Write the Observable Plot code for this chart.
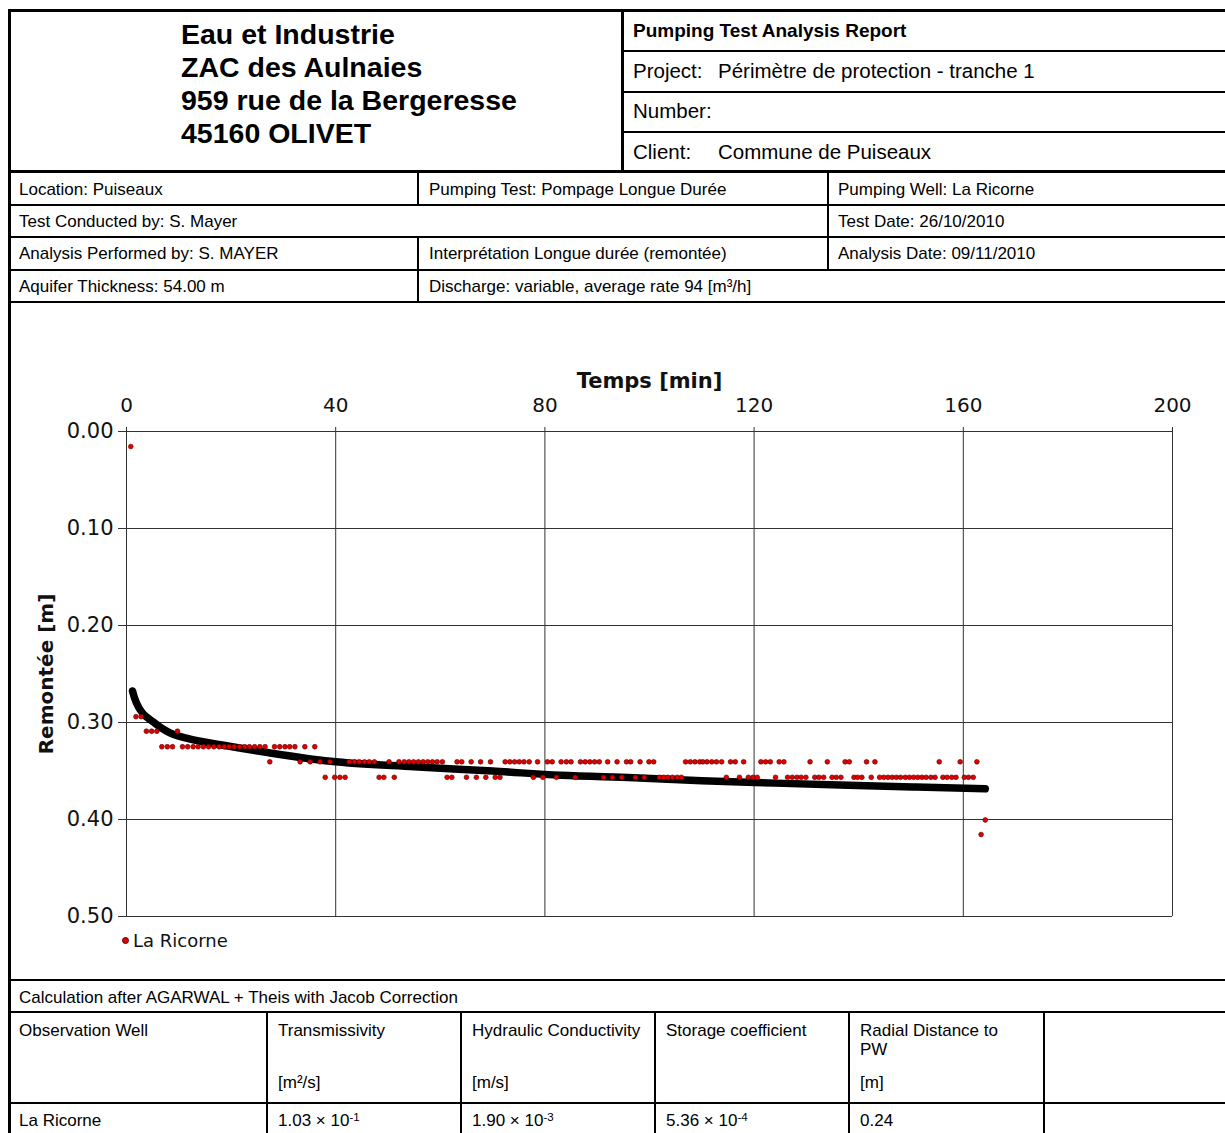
<!DOCTYPE html>
<html><head><meta charset="utf-8">
<script src="https://cdn.jsdelivr.net/npm/d3@7"></script>
<script src="https://cdn.jsdelivr.net/npm/@observablehq/plot@0.6"></script>
<style>
body{margin:0;background:#fff;}
#page{position:relative;width:1225px;height:1133px;overflow:hidden;background:#fff;font-family:"Liberation Sans",Arial,sans-serif;color:#000;}
.t{position:absolute;white-space:nowrap;line-height:1;transform:translateY(-50%);}
.ln{position:absolute;background:#000;}
.sup{position:relative;top:-0.45em;font-size:0.68em;}
#chart{position:absolute;left:10px;top:302px;}
#legend{position:absolute;left:120px;top:941px;transform:translateY(-50%);font-family:"DejaVu Sans",Verdana,sans-serif;font-size:18px;color:#111;white-space:nowrap;line-height:1;}
#legend .d{display:inline-block;width:5px;height:5px;border-radius:50%;background:#e00000;border:0.5px solid #5a0000;vertical-align:middle;margin:0 4px 4px 2px;}
</style></head><body><div id="page"><div id="chart"></div><div id="legend"><span class="d"></span>La Ricorne</div></div>
<script>
// ---- data ----
const timeTicks = [0, 40, 80, 120, 160, 200];
const levelTicks = [0, 0.1, 0.2, 0.3, 0.4, 0.5];

// observed recovery (time in min, remontée in m)
const obsTime = [0.82, 1.8, 2.8, 3.8, 4.8, 5.8, 6.75, 7.8, 8.8, 9.75,
  10.7, 11.7, 12.75, 13.7, 14.7, 15.7, 16.7, 17.7, 18.7, 19.6, 20.6, 21.6, 22.6, 23.5, 24.5, 25.5, 26.5,
  27.4, 28.3, 29.3, 30.3, 31.2, 32.2, 33.2, 34.1, 35.1, 36.0, 37.0, 38.0, 38.9, 39.8, 40.8, 41.8,
  42.6, 43.6, 44.5, 45.5, 46.4, 47.4, 48.3, 49.2, 50.2, 51.2,
  52.1, 53.1, 54.0, 54.9, 55.8, 56.7, 57.6, 58.5, 59.4, 60.4, 61.3, 62.2, 63.2, 64.1, 65.0, 65.9, 66.9, 67.7, 68.7, 69.6, 70.5, 71.4,
  72.4, 73.3, 74.2, 75.1, 76.0, 77.0, 77.8, 78.6, 79.6, 80.5, 81.4, 82.2,
  83.1, 84.1, 85.0, 85.8, 86.8, 87.7, 88.6, 89.5, 90.4, 91.2, 92.0, 92.9, 93.8, 94.7, 95.6, 96.4, 97.3, 98.2, 99.0, 99.9, 100.8,
  101.9, 102.7, 103.5, 104.4, 105.3, 106.1, 106.9, 107.8, 108.7, 109.6, 110.2, 111.0, 111.9, 112.8, 113.8,
  114.7, 115.5, 116.4, 117.2, 118.0, 118.9, 119.8, 120.6, 121.3, 122.2, 123.1, 124.1, 124.8, 125.7,
  126.4, 127.3, 128.2, 129.0, 129.9, 130.7, 131.6, 132.4, 133.3, 134.0, 134.9, 135.7, 136.6, 137.4, 138.2,
  139.1, 139.8, 140.6, 141.5, 142.4, 143.1, 144.0, 144.8, 145.6, 146.4, 147.2, 148.0, 148.9, 149.7, 150.5, 151.3, 152.1, 152.9, 153.8, 154.6,
  155.4, 156.1, 156.9, 157.8, 158.6, 159.4, 160.2, 161.0, 161.9, 162.6, 163.4, 164.2];
const obsLevel = [0.0155, 0.294, 0.294, 0.309, 0.309, 0.309, 0.325, 0.325, 0.325, 0.309,
  0.325, 0.325, 0.325, 0.325, 0.325, 0.325, 0.325, 0.325, 0.325, 0.325, 0.325, 0.325, 0.325, 0.325, 0.325, 0.325, 0.325,
  0.3405, 0.325, 0.325, 0.325, 0.325, 0.325, 0.3405, 0.325, 0.3405, 0.325, 0.3405, 0.3565, 0.3405, 0.3565, 0.3565, 0.3565,
  0.3405, 0.3405, 0.3405, 0.3405, 0.3405, 0.3405, 0.3565, 0.3565, 0.3405, 0.3565,
  0.3405, 0.3405, 0.3405, 0.3405, 0.3405, 0.3405, 0.3405, 0.3405, 0.3405, 0.3405, 0.3565, 0.3565, 0.3405, 0.3405, 0.3565, 0.3405, 0.3565, 0.3405, 0.3565, 0.3405, 0.3565, 0.3565,
  0.3405, 0.3405, 0.3405, 0.3405, 0.3405, 0.3405, 0.3565, 0.3405, 0.3565, 0.3405, 0.3405, 0.3565,
  0.3405, 0.3405, 0.3405, 0.3565, 0.3405, 0.3405, 0.3405, 0.3405, 0.3405, 0.3565, 0.3405, 0.3565, 0.3405, 0.3565, 0.3405, 0.3405, 0.3565, 0.3405, 0.3565, 0.3405, 0.3405,
  0.3565, 0.3565, 0.3565, 0.3565, 0.3565, 0.3565, 0.3405, 0.3405, 0.3405, 0.3405, 0.3405, 0.3405, 0.3405, 0.3405, 0.3405,
  0.3565, 0.3405, 0.3405, 0.3565, 0.3405, 0.3565, 0.3565, 0.3565, 0.3405, 0.3405, 0.3405, 0.3565, 0.3405, 0.3405,
  0.3565, 0.3565, 0.3565, 0.3565, 0.3565, 0.3405, 0.3565, 0.3565, 0.3565, 0.3405, 0.3565, 0.3565, 0.3565, 0.3405, 0.3405,
  0.3565, 0.3565, 0.3565, 0.3405, 0.3565, 0.3405, 0.3565, 0.3565, 0.3565, 0.3565, 0.3565, 0.3565, 0.3565, 0.3565, 0.3565, 0.3565, 0.3565, 0.3565, 0.3565, 0.3565,
  0.3405, 0.3565, 0.3565, 0.3565, 0.3565, 0.3405, 0.3565, 0.3565, 0.3565, 0.3405, 0.4155, 0.4005];

// fitted curve (Agarwal + Theis with Jacob correction)
const fitTime  = [1.15, 1.5, 2, 3, 4, 5, 6.5, 8.4, 12, 18, 27, 39, 55, 70, 83, 97, 110, 124, 138, 151, 164.2];
const fitLevel = [0.2675, 0.274, 0.281, 0.290, 0.295, 0.299, 0.305, 0.311, 0.317, 0.323, 0.331, 0.340, 0.3457, 0.350, 0.3545, 0.357, 0.360, 0.3625, 0.3648, 0.3666, 0.3684];

// ---- report frame ----
const page = document.getElementById("page");
function line(x, y, w, h) {
  const d = document.createElement("div");
  d.className = "ln";
  d.style.cssText = `left:${x}px;top:${y}px;width:${w}px;height:${h}px;`;
  page.appendChild(d);
}
function text(x, y, html, size, bold) {
  const d = document.createElement("div");
  d.className = "t";
  d.style.cssText = `left:${x}px;top:${y}px;font-size:${size}px;${bold ? "font-weight:bold;" : ""}`;
  d.innerHTML = html;
  page.appendChild(d);
}
// outer border
line(8, 9, 1217, 3);
line(8, 9, 3, 1124);
// header
line(621, 9, 3, 163);
[50, 91, 131].forEach(y => line(622, y, 603, 2));
line(8, 170, 1217, 3);
[204, 236, 269].forEach(y => line(8, y, 1217, 2));
line(8, 301, 1217, 2);
line(417, 171, 2, 33); line(417, 236, 2, 66);
line(827, 171, 2, 99);
// bottom tables
line(8, 979, 1217, 2);
line(8, 1011, 1217, 2);
line(8, 1102, 1217, 2);
[266, 460, 654, 848, 1043].forEach(x => line(x, 1011, 2, 122));

// header texts
text(181, 34, "Eau et Industrie", 28.5, true);
text(181, 67, "ZAC des Aulnaies", 28.5, true);
text(181, 100, "959 rue de la Bergeresse", 28.5, true);
text(181, 133, "45160 OLIVET", 28.5, true);
text(633, 30, "Pumping Test Analysis Report", 19, true);
text(633, 71, "Project:", 20.5);
text(718, 71, "Périmètre de protection - tranche 1", 20.5);
text(633, 111, "Number:", 20.5);
text(633, 152, "Client:", 20.5);
text(718, 152, "Commune de Puiseaux", 20.5);
// info rows
text(19, 189, "Location: Puiseaux", 17);
text(429, 189, "Pumping Test: Pompage Longue Durée", 17);
text(838, 189, "Pumping Well: La Ricorne", 17);
text(19, 221, "Test Conducted by: S. Mayer", 17);
text(838, 221, "Test Date: 26/10/2010", 17);
text(19, 253, "Analysis Performed by: S. MAYER", 17);
text(429, 253, "Interprétation Longue durée (remontée)", 17);
text(838, 253, "Analysis Date: 09/11/2010", 17);
text(19, 286, "Aquifer Thickness: 54.00 m", 17);
text(429, 286, "Discharge: variable, average rate 94 [m³/h]", 17);
// results table
text(19, 997, "Calculation after AGARWAL + Theis with Jacob Correction", 17);
text(19, 1030, "Observation Well", 17);
text(278, 1030, "Transmissivity", 17);
text(472, 1030, "Hydraulic Conductivity", 17);
text(666, 1030, "Storage coefficient", 17);
text(860, 1030, "Radial Distance to", 17);
text(860, 1049, "PW", 17);
text(278, 1082, "[m²/s]", 17);
text(472, 1082, "[m/s]", 17);
text(860, 1082, "[m]", 17);
text(19, 1120, "La Ricorne", 17);
text(278, 1120, '1.03 × 10<span class="sup">-1</span>', 17);
text(472, 1120, '1.90 × 10<span class="sup">-3</span>', 17);
text(666, 1120, '5.36 × 10<span class="sup">-4</span>', 17);
text(860, 1120, "0.24", 17);

// ---- chart ----
const obs = obsTime.map((t, i) => ({t, s: obsLevel[i]}));
const fit = fitTime.map((t, i) => ({t, s: fitLevel[i]}));
const chart = Plot.plot({
  width: 1215, height: 678,
  marginLeft: 116, marginRight: 53, marginTop: 129, marginBottom: 64,
  style: {fontFamily: '"DejaVu Sans", Verdana, sans-serif', background: "transparent", color: "#111"},
  x: {domain: [0, 200]},
  y: {domain: [0, 0.5], reverse: true},
  marks: [
    Plot.gridX(timeTicks, {stroke: "#333", strokeOpacity: 1}),
    Plot.gridY(levelTicks, {stroke: "#333", strokeOpacity: 1}),
    Plot.axisX(timeTicks, {anchor: "top", tickSize: 5, tickPadding: 15, fontSize: 20, label: null, stroke: "#333"}),
    Plot.axisY(levelTicks, {anchor: "left", tickSize: 8, tickPadding: 5, fontSize: 21, tickFormat: d3.format(".2f"), label: null, stroke: "#333"}),
    Plot.ruleX([0], {stroke: "#333", y1: -0.004, y2: 0.5}),
    Plot.line(fit, {x: "t", y: "s", stroke: "#000", strokeWidth: 7.5, curve: "monotone-x", strokeLinecap: "round", strokeLinejoin: "round"}),
    Plot.dot(obs, {x: "t", y: "s", r: 2.4, fill: "#e00000", stroke: "#5a0000", strokeWidth: 0.6}),
    Plot.text(["Temps [min]"], {frameAnchor: "top", dy: -58, fontSize: 21, fontWeight: "bold", text: d => d, fill: "#111"}),
    Plot.text(["Remontée [m]"], {frameAnchor: "left", textAnchor: "middle", dx: -80, rotate: -90, fontSize: 20, fontWeight: "bold", text: d => d, fill: "#111"})
  ]
});
document.getElementById("chart").appendChild(chart);
</script>
</body></html>
